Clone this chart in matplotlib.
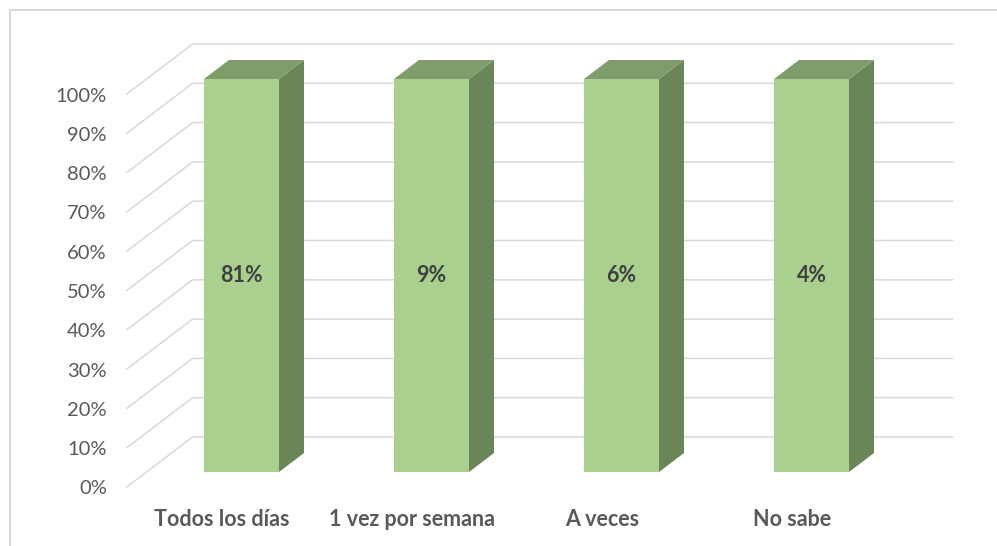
import matplotlib
matplotlib.use("Agg")
from matplotlib import pyplot as plt
from matplotlib.lines import Line2D
from matplotlib.patches import Polygon
from matplotlib.transforms import IdentityTransform, offset_copy

categories = ["Todos los días", "1 vez por semana", "A veces", "No sabe"]
values = [81, 9, 6, 4]
# 100% stacked column with a single series: every column is its own total
shares = [v / v * 100 for v in values]
ticks = list(range(0, 101, 10))

plt.rcParams['font.family'] = ['Lato', 'DejaVu Sans']

W, H = 997, 546
fig = plt.figure(figsize=(W / 100, H / 100), dpi=100)
ax = fig.add_axes([146.5 / W, 74 / H, 760 / W, 393 / H])
ax.set_xlim(-0.5, len(categories) - 0.5)
ax.set_ylim(0, 100)
ax.axis('off')

# oblique 3d: depth d (pixels up) shifts x by d * SLANT
SLANT = 25 / 19
D_FRONT, D_BAR, D_WALL = -15, 19, 35
bar_w = 0.395

GRID = '#D9D9D9'
FRONT, SIDE, TOP = '#A9D08E', '#6A8557', '#7F9D6A'


def pt(x, y, d):
    px, py = ax.transData.transform((x, y))
    return (px + d * SLANT, py + d)


def shifted(d, extra_x=0, extra_y=0):
    return offset_copy(ax.transData, fig=fig, x=d * SLANT + extra_x,
                       y=d + extra_y, units='dots')


x0, x1 = ax.get_xlim()
for t in ticks:
    p = [pt(x0, t, D_FRONT), pt(x0, t, D_WALL), pt(x1, t, D_WALL)]
    ax.add_line(Line2D([q[0] for q in p], [q[1] for q in p],
                       transform=IdentityTransform(), color=GRID, lw=1.1,
                       clip_on=False, zorder=1))
    ax.text(x0, t, f"{t}%", transform=shifted(D_FRONT, -20, -2),
            ha='right', va='center', fontsize=14.5, color='#595959')

for i, h in enumerate(shares):
    l, r = i - bar_w / 2, i + bar_w / 2
    faces = [
        ([pt(r, 0, 0), pt(r, 0, D_BAR), pt(r, h, D_BAR), pt(r, h, 0)], SIDE),
        ([pt(l, h, 0), pt(r, h, 0), pt(r, h, D_BAR), pt(l, h, D_BAR)], TOP),
        ([pt(l, 0, 0), pt(r, 0, 0), pt(r, h, 0), pt(l, h, 0)], FRONT),
    ]
    for verts, c in faces:
        ax.add_patch(Polygon(verts, closed=True, transform=IdentityTransform(),
                             facecolor=c, edgecolor='none', clip_on=False,
                             zorder=2))
    ax.text(i, h / 2, f"{values[i]}%", ha='center', va='center',
            fontsize=15.5, fontweight='bold', color='#404040', zorder=3)
    ax.text(i, 0, categories[i], transform=shifted(D_FRONT, 0, -32),
            ha='center', va='center', fontsize=15.5, fontweight='bold',
            color='#595959')

# chart frame
fig.add_artist(Line2D([9.5 / W, 9.5 / W, 1], [0, 1 - 9.5 / H, 1 - 9.5 / H],
                      transform=fig.transFigure, color=GRID, lw=1.5))

fig.savefig("out.png", dpi=100, facecolor='white')
